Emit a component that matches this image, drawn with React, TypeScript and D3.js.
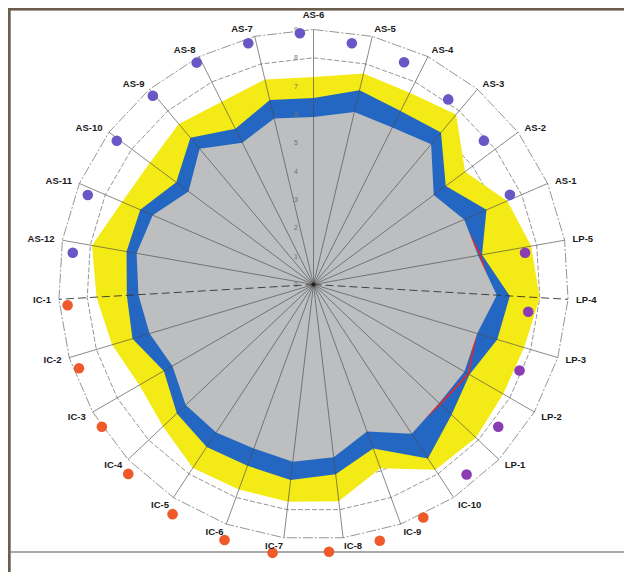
import React from 'react';
import * as d3 from 'd3';

const categories = ['AS-6','AS-5','AS-4','AS-3','AS-2','AS-1','LP-5','LP-4','LP-3','LP-2','LP-1','IC-10','IC-9','IC-8','IC-7','IC-6','IC-5','IC-4','IC-3','IC-2','IC-1','AS-12','AS-11','AS-10','AS-9','AS-8','AS-7'];

const yellowValues = [7.32,7.65,7.57,7.83,6.67,7.45,7.8,8.0,7.76,7.73,7.88,7.83,6.9,7.7,7.72,7.7,7.75,7.3,7.1,7.42,7.67,7.94,7.36,7.2,7.4,7.22,7.44];
const blueValues = [6.58,7.05,6.85,7.0,5.82,6.65,6.04,6.94,6.77,6.36,6.7,7.35,6.16,6.74,6.95,6.81,6.86,6.63,6.1,6.67,6.6,6.7,6.66,6.04,6.76,6.15,6.69];
const redValues = [5.8,6.15,6.1,6.35,5.2,5.7,5.98,6.3,6.0,6.31,6.15,6.2,5.4,6.0,6.2,6.05,6.15,6.1,5.65,5.95,6.1,6.25,6.1,5.4,6.15,5.5,5.9];
const grayValues = [5.91,6.26,6.2,6.46,5.29,5.79,5.9,6.48,6.03,6.15,6.1,6.31,5.52,6.14,6.3,6.16,6.25,6.2,5.75,6.04,6.19,6.34,6.18,5.5,6.25,5.6,6.02];

const markerValues = [8.88,8.62,8.47,8.08,7.87,7.62,7.55,7.64,7.88,8.23,8.61,9.09,9.34,9.45,9.58,9.55,9.51,9.35,9.0,8.79,8.71,8.57,8.57,8.6,8.75,8.85,8.82];
const markerShift = [-3.1,-4.3,-4.5,-3.95,-3.5,-1.2,1.45,3.9,6.0,7.6,7.8,8.1,5.5,3.35,2.0,-0.8,-1.8,-2.3,-3.9,-3.0,-1.5,-2.5,-1.7,-0.5,-0.4,-1.1,-1.8];

const ringTicks = [0,1,2,3,4,5,6,7,8,9];
const dashedAxes = ['LP-4','IC-1'];

const W = 624, H = 572, CX = 313.5, CY = 284.5, R = 255;

const groupColor: Record<string,string> = { AS: '#6858c6', LP: '#8a3cb4', IC: '#ee5a2a' };

export default function App() {
  const n = categories.length;
  const angle = d3.scaleLinear().domain([0, n]).range([0, 2 * Math.PI]);
  const radius = d3.scaleLinear().domain([0, 9]).range([0, R]);
  const poly = (vals: number[]) =>
    d3.lineRadial<number>()
      .angle((_, i) => angle(i))
      .radius(d => radius(d))
      .curve(d3.curveLinearClosed)(vals) as string;
  const pt = (a: number, r: number) => [Math.sin(a) * r, -Math.cos(a) * r];

  const font = '"Liberation Sans", Arial, Helvetica, sans-serif';

  return (
    <svg width={W} height={H} style={{ position: 'absolute', left: 0, top: 0, background: '#fff' }}>
      <rect x={0} y={0} width={W} height={H} fill="#ffffff" />
      {/* frame */}
      <rect x={8} y={8} width={616} height={2.6} fill="#6b5e4c" />
      <rect x={8} y={8} width={2.7} height={564} fill="#6b5e4c" />
      <line x1={10.7} x2={624} y1={552} y2={552} stroke="#8c8c8c" strokeWidth={1.5} />

      <g transform={`translate(${CX},${CY})`}>
        {/* rings */}
        {ringTicks.filter(t => t > 0).map(t => (
          <path key={'ring' + t}
            d={poly(categories.map(() => t))}
            fill="none" stroke="#7a7a7a" strokeWidth={0.8}
            strokeDasharray={t === 9 ? '10,2,2,2' : '5,2'} />
        ))}
        {/* series */}
        <path d={poly(yellowValues)} fill="#f3ea16" />
        <path d={poly(blueValues)} fill="#2467c2" />
        <path d={poly(redValues)} fill="none" stroke="#e8262a" strokeWidth={1.6} />
        <path d={poly(grayValues)} fill="#bcbec0" />
        {/* spokes */}
        {categories.map((c, i) => {
          const [x, y] = pt(angle(i), R);
          const dashed = dashedAxes.includes(c);
          return (
            <line key={'sp' + c} x1={0} y1={0} x2={x} y2={y}
              stroke={dashed ? '#333' : '#4a4a4a'}
              strokeWidth={dashed ? 0.9 : 0.65}
              strokeDasharray={dashed ? '8,4' : undefined} />
          );
        })}
        <circle cx={0} cy={0} r={2} fill="#222" />
        {/* tick labels */}
        {ringTicks.map(t => (
          <text key={'tk' + t} x={-17.5} y={-radius(t)} fontSize={7} fill="#6f6f6f"
            textAnchor="middle" dominantBaseline="central" fontFamily={font}>{t}</text>
        ))}
        {/* markers */}
        {categories.map((c, i) => {
          const a = angle(i) + (markerShift[i] * Math.PI) / 180;
          const [x, y] = pt(a, radius(markerValues[i]));
          return <circle key={'mk' + c} cx={x} cy={y} r={5.3} fill={groupColor[c.split('-')[0]]} />;
        })}
        {/* category labels */}
        {categories.map((c, i) => {
          const a = angle(i);
          const s = Math.sin(a);
          const top = Math.abs(s) < 0.05;
          const [x, y] = pt(a, R + (top ? 15 : 8));
          return (
            <text key={'lb' + c} x={x} y={y}
              textAnchor={top ? 'middle' : s > 0 ? 'start' : 'end'}
              dominantBaseline="central"
              fontSize={9.5} fontWeight="bold" fill="#1a1a1a" fontFamily={font}>{c}</text>
          );
        })}
      </g>
    </svg>
  );
}
